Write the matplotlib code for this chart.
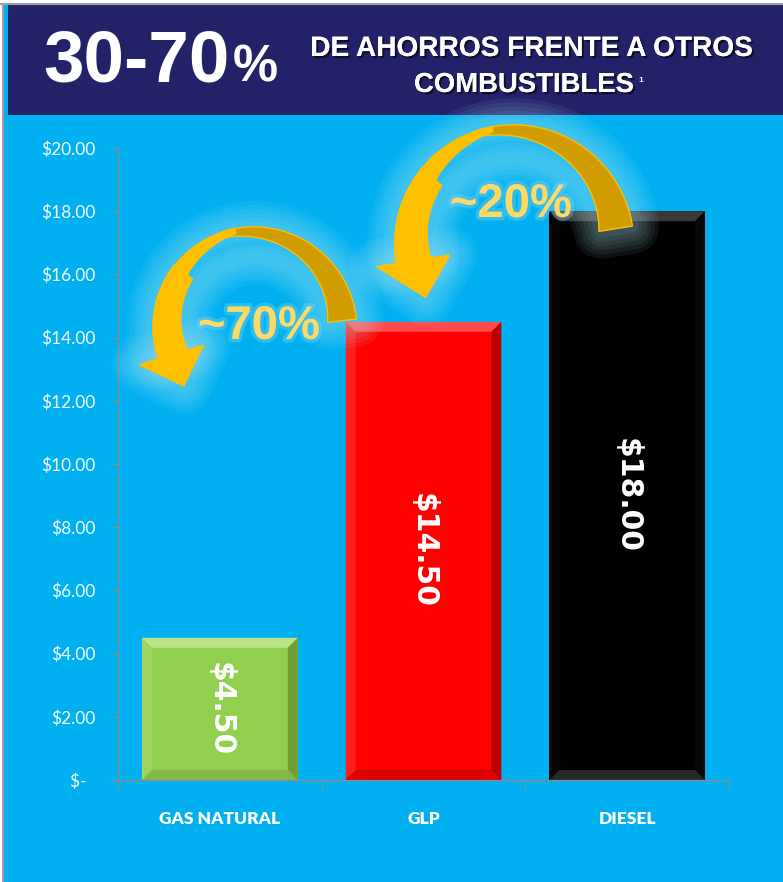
import numpy as np
import matplotlib
matplotlib.use("Agg")
import matplotlib.pyplot as plt
from matplotlib.patches import Rectangle, Polygon
from matplotlib.transforms import Affine2D
import matplotlib.patheffects as pe

# ---------------- data ----------------
categories = ["GAS NATURAL", "GLP", "DIESEL"]
prices = [4.50, 14.50, 18.00]
value_labels = ["$4.50", "$14.50", "$18.00"]
bar_colors = ["#92D050", "#FF0000", "#000000"]
ytick_values = [0, 2, 4, 6, 8, 10, 12, 14, 16, 18, 20]
ytick_labels = ["$-  ", "$2.00", "$4.00", "$6.00", "$8.00", "$10.00",
                "$12.00", "$14.00", "$16.00", "$18.00", "$20.00"]
savings_labels = ["~70%", "~20%"]
title_big = "30-70"
title_pct = "%"
title_line1 = "DE AHORROS FRENTE A OTROS"
title_line2 = "COMBUSTIBLES"

W, H = 783, 882
BLUE = "#00B0F0"
NAVY = "#232268"

fig = plt.figure(figsize=(W / 100, H / 100), dpi=100)
fig.patch.set_facecolor("white")

# pixel transform (y down)
pix = Affine2D().scale(1 / W, -1 / H).translate(0, 1) + fig.transFigure

# background panels
fig.patches.append(Rectangle((3, 4), W - 3, H - 4, transform=pix,
                             facecolor=BLUE, edgecolor="none", zorder=-3))
fig.patches.append(Rectangle((8, 5), W - 8, 110, transform=pix,
                             facecolor=NAVY, edgecolor="none", zorder=-2))
fig.lines.append(plt.Line2D([0, W], [4, 4], transform=pix, color="#A0A0A0", lw=1.5, zorder=-1))
fig.lines.append(plt.Line2D([2.5, 2.5], [4, H], transform=pix, color="#A0A0A0", lw=1.5, zorder=-1))

# ---------------- axes ----------------
ax = fig.add_axes([118 / W, 1 - 780 / H, (729 - 118) / W, (780 - 148) / H])
ax.set_facecolor("none")
x = np.arange(len(categories))
bw = 0.765
bars = ax.bar(x, prices, width=bw, color=bar_colors, zorder=2)
ax.set_xlim(-0.5, len(categories) - 0.5)
ax.set_ylim(0, 20)

for s in ["top", "right"]:
    ax.spines[s].set_visible(False)
for s in ["left", "bottom"]:
    ax.spines[s].set_color("#8C8C8C")
    ax.spines[s].set_linewidth(1.0)

ax.set_yticks(ytick_values)
ax.set_yticklabels(ytick_labels)
ax.tick_params(axis="y", direction="out", length=6, color="#8C8C8C",
               labelcolor="#F2FAFF", pad=10, labelsize=12.5)
for t in ax.get_yticklabels():
    t.set_fontfamily(["Lato", "DejaVu Sans"])

ax.set_xticks(x)
ax.set_xticklabels(categories)
ax.tick_params(axis="x", which="major", length=0, pad=22, labelsize=12.5,
               labelcolor="white")
for t in ax.get_xticklabels():
    t.set_fontfamily(["Lato", "DejaVu Sans"])
    t.set_fontweight("heavy")
ax.set_xticks(np.arange(len(categories) + 1) - 0.5, minor=True)
ax.tick_params(axis="x", which="minor", length=8, direction="out", color="#8C8C8C")

# bevel effects on bars
px_x = (len(categories)) / (729 - 118)
px_y = 20 / (780 - 148)
bevel_cols = {
    "#92D050": ("#CDEFA0", "#5F8A2E", "#7FB048", "#A2D866"),
    "#FF0000": ("#FF6A6A", "#9A0000", "#D00000", "#FF2A2A"),
    "#000000": ("#505050", "#0A0A0A", "#3A3A3A", "#080808"),
}
for xi, v, c in zip(x, prices, bar_colors):
    x0, x1 = xi - bw / 2, xi + bw / 2
    bx, by = 10 * px_x, 10 * px_y
    top, right, bottom, left = bevel_cols[c]
    polys = [
        ([(x0, v), (x1, v), (x1 - bx, v - by), (x0 + bx, v - by)], top),
        ([(x1, v), (x1, 0), (x1 - bx, by), (x1 - bx, v - by)], right),
        ([(x0, 0), (x1, 0), (x1 - bx, by), (x0 + bx, by)], bottom),
        ([(x0, 0), (x0, v), (x0 + bx, v - by), (x0 + bx, by)], left),
    ]
    for pts, col in polys:
        ax.add_patch(Polygon(pts, closed=True, facecolor=col, edgecolor="none",
                             alpha=0.7, zorder=3))

# value labels (rotated)
for xi, v, lab in zip(x, prices, value_labels):
    ax.text(xi, v / 2, lab, rotation=270, ha="center", va="center",
            color="white", fontsize=21.5, fontweight="bold",
            family=["DejaVu Sans"], zorder=5)

# ---------------- header texts ----------------
sh = [pe.withSimplePatchShadow(offset=(1.5, -1.5), shadow_rgbFace="#000000", alpha=0.6),
      pe.Normal()]
fig.text(43 / W, 1 - 82 / H, title_big, color="white", fontsize=52.5,
         fontweight="bold", family=["Liberation Sans", "DejaVu Sans"],
         ha="left", va="baseline", zorder=10)
fig.text(233 / W, 1 - 82 / H, title_pct, color="white", fontsize=36.5,
         fontweight="bold", family=["Liberation Sans", "DejaVu Sans"],
         ha="left", va="baseline", zorder=10)
fig.text(531 / W, 1 - 56 / H, title_line1, color="white", fontsize=20.2,
         fontweight="bold", family=["Liberation Sans", "DejaVu Sans"],
         ha="center", va="baseline", zorder=10, path_effects=sh)
fig.text(524 / W, 1 - 92 / H, title_line2, color="white", fontsize=19.8,
         fontweight="bold", family=["Liberation Sans", "DejaVu Sans"],
         ha="center", va="baseline", zorder=10, path_effects=sh)
fig.text(638 / W, 1 - 82 / H, "1", color="white", fontsize=6,
         fontweight="bold", family=["Liberation Sans", "DejaVu Sans"],
         ha="left", va="baseline", zorder=10)


# ---------------- curved arrows ----------------
def pt(cx, cy, r, th):
    t = np.deg2rad(th)
    return (cx + r * np.cos(t), cy - r * np.sin(t))


def ribbon(cx, cy, th0, th1, r_out0, r_out1, w0, w1, n=60):
    th = np.linspace(th0, th1, n)
    ro = np.linspace(r_out0, r_out1, n)
    w = np.linspace(w0, w1, n)
    outer = [pt(cx, cy, a, b) for a, b in zip(ro, th)]
    inner = [pt(cx, cy, a - c, b) for a, b, c in zip(ro, th, w)]
    return outer + inner[::-1]


glow = [pe.Stroke(linewidth=lw, foreground="#B5E9FB", alpha=0.07,
                  joinstyle="round", capstyle="round")
        for lw in (40, 34, 28, 22, 16, 10)]


def draw_arrow(cx, cy, R, tail_th, w_tail, top_th, w_mid, end_th,
               head_th, head_r0, head_r1, tip_th, tip_r, R_end):
    dark = ribbon(cx, cy, tail_th, top_th + 8, R + 1, R, w_tail, 6)
    light = ribbon(cx, cy, top_th, end_th, R, R_end, 5, w_mid)
    light_mid = ribbon(cx, cy, top_th + 40, end_th, R - 1, R_end, w_mid * 0.75, w_mid)
    head = [pt(cx, cy, head_r0, head_th), pt(cx, cy, head_r1, head_th),
            pt(cx, cy, tip_r, tip_th)]
    # glow backdrop
    full = ribbon(cx, cy, tail_th, end_th, R, R_end, w_tail * 0.9, w_mid)
    for poly in (full, head):
        fig.patches.append(Polygon(poly, closed=True, transform=pix,
                                   facecolor="none", edgecolor="none",
                                   zorder=8, path_effects=glow))
    fig.patches.append(Polygon(dark, closed=True, transform=pix, facecolor="#D09C00",
                               edgecolor="#FFC000", lw=1, zorder=9))
    fig.patches.append(Polygon(light, closed=True, transform=pix, facecolor="#FFC000",
                               edgecolor="#FFC000", lw=1, zorder=9))
    fig.patches.append(Polygon(light_mid, closed=True, transform=pix, facecolor="#FFC000",
                               edgecolor="#FFC000", lw=1, zorder=9))
    fig.patches.append(Polygon(head, closed=True, transform=pix, facecolor="#FFC000",
                               edgecolor="#FFC000", lw=1, zorder=9))


# arrow GLP -> GAS NATURAL
draw_arrow(253, 330, 103, 6, 29, 100, 31, 199, 197, 52, 119, 219, 89, 99)
# arrow DIESEL -> GLP
draw_arrow(513, 245, 120, 9, 34, 100, 35, 191, 189, 64, 138, 211, 102, 118)

pct_glow = [pe.Stroke(linewidth=5, foreground="#7FD6F5", alpha=0.35), pe.Normal()]
fig.text(259 / W, 1 - 327 / H, savings_labels[0], color="#FFD966", fontsize=34,
         fontweight="bold", family=["Liberation Sans", "DejaVu Sans"],
         ha="center", va="center", zorder=11, path_effects=pct_glow)
fig.text(511 / W, 1 - 205 / H, savings_labels[1], color="#FFD966", fontsize=34,
         fontweight="bold", family=["Liberation Sans", "DejaVu Sans"],
         ha="center", va="center", zorder=11, path_effects=pct_glow)

fig.savefig("out.png", dpi=100, facecolor=fig.get_facecolor())
